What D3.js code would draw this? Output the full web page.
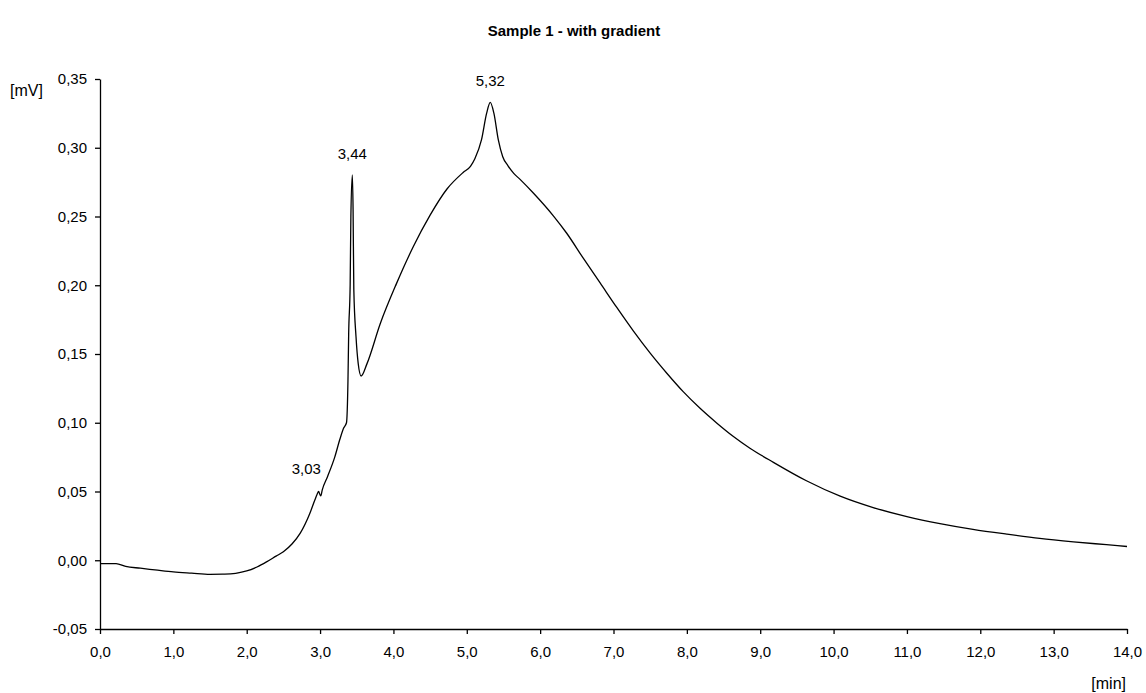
<!DOCTYPE html>
<html>
<head>
<meta charset="utf-8">
<script src="https://cdn.jsdelivr.net/npm/d3@7"></script>
<style>
  html, body { margin: 0; padding: 0; background: #fff; }
  svg { display: block; font-family: Arial, "Liberation Sans", sans-serif; }
</style>
</head>
<body>
<svg id="chart" width="1146" height="693"></svg>
<script>
// Detector trace: retention time [min] and signal [mV]
const retentionTime = [
  0.00, 0.10, 0.22, 0.35, 0.55, 0.75, 1.00, 1.25, 1.50, 1.70, 1.85, 2.00,
  2.14, 2.27, 2.40, 2.50, 2.62, 2.73, 2.86, 2.93, 2.96, 2.98, 3.00, 3.01,
  3.03, 3.10, 3.20, 3.27, 3.32, 3.36, 3.38, 3.39, 3.41, 3.42, 3.44, 3.45,
  3.46, 3.49, 3.52, 3.56, 3.64, 3.82, 4.04, 4.27, 4.50, 4.73, 4.95, 5.05,
  5.11, 5.20, 5.27, 5.32, 5.37, 5.43, 5.49, 5.56, 5.64, 5.73, 5.91, 6.18,
  6.36, 6.59, 6.82, 7.04, 7.27, 7.50, 7.73, 7.95, 8.18, 8.41, 8.63, 8.86,
  9.18, 9.63, 10.09, 10.54, 11.00, 11.45, 11.90, 12.36, 12.81, 13.27, 13.72, 14.00
];
const signal = [
  -0.0024, -0.0024, -0.0025, -0.0045, -0.0058, -0.0070, -0.0085, -0.0094, -0.0102, -0.0101, -0.0095, -0.0078,
  -0.0049, -0.0012, 0.0030, 0.0062, 0.0120, 0.0197, 0.0340, 0.0440, 0.0480, 0.0500, 0.0475, 0.0468,
  0.0512, 0.0606, 0.0750, 0.0880, 0.0960, 0.1000, 0.1300, 0.1650, 0.2000, 0.2500, 0.2802, 0.2550,
  0.1970, 0.1625, 0.1430, 0.1340, 0.1430, 0.1720, 0.2010, 0.2280, 0.2510, 0.2700, 0.2820, 0.2865,
  0.2920, 0.3057, 0.3250, 0.3330, 0.3250, 0.3057, 0.2935, 0.2870, 0.2814, 0.2768, 0.2669, 0.2505,
  0.2380, 0.2195, 0.2015, 0.1842, 0.1668, 0.1506, 0.1358, 0.1226, 0.1105, 0.0997, 0.0902, 0.0815,
  0.0712, 0.0578, 0.0466, 0.0383, 0.0318, 0.0267, 0.0225, 0.0190, 0.0159, 0.0134, 0.0113, 0.0100
];

// Labelled peaks (retention time of apex)
const peakTimes = [3.03, 3.44, 5.32];

// Axis ticks
const xTicks = d3.range(0, 15, 1);
const yTicks = [-0.05, 0.00, 0.05, 0.10, 0.15, 0.20, 0.25, 0.30, 0.35];

const title = "Sample 1 - with gradient";
const xUnit = "[min]";
const yUnit = "[mV]";

// Comma decimal separator and plain hyphen minus
const locale = d3.formatLocale({ decimal: ",", thousands: ".", grouping: [3], currency: ["", ""], minus: "-" });
const fmtX = locale.format(".1f");
const fmtY = locale.format(".2f");
const fmtPeak = locale.format(".2f");

const svg = d3.select("#chart");
const x = d3.scaleLinear().domain([0, 14]).range([100, 1127]);
const y = d3.scaleLinear().domain([-0.05, 0.35]).range([629, 79]);

const points = retentionTime.map((t, i) => ({ t, v: signal[i] }));
const valueAt = t => {
  const i = retentionTime.indexOf(t);
  return i >= 0 ? signal[i] : null;
};

// Axes
const axisFont = "15px";
const yAxis = svg.append("g")
  .attr("transform", `translate(${x(0)},0)`)
  .call(d3.axisLeft(y).tickValues(yTicks).tickFormat(fmtY).tickSize(5).tickSizeOuter(0).tickPadding(8));
const xAxis = svg.append("g")
  .attr("transform", `translate(0,${y(-0.05)})`)
  .call(d3.axisBottom(x).tickValues(xTicks).tickFormat(fmtX).tickSize(5).tickSizeOuter(0).tickPadding(12));

[xAxis, yAxis].forEach(g => {
  g.selectAll("path.domain").attr("stroke", "#000").attr("stroke-width", 1.3);
  g.selectAll(".tick line").attr("stroke", "#000").attr("stroke-width", 1.3);
  g.selectAll(".tick text")
    .attr("fill", "#000")
    .style("font-family", "Arial, 'Liberation Sans', sans-serif")
    .style("font-size", axisFont);
});

// Trace
svg.append("path")
  .datum(points)
  .attr("fill", "none")
  .attr("stroke", "#000")
  .attr("stroke-width", 1.3)
  .attr("stroke-linejoin", "round")
  .attr("d", d3.line().x(d => x(d.t)).y(d => y(d.v)).curve(d3.curveMonotoneX));

// Peak labels
const peakOffsets = { 3.03: -16, 3.44: 0, 5.32: 0 };
svg.append("g").selectAll("text")
  .data(peakTimes)
  .join("text")
  .attr("x", d => x(d) + peakOffsets[d])
  .attr("y", d => y(valueAt(d)) - 16)
  .attr("text-anchor", "middle")
  .style("font-size", axisFont)
  .attr("fill", "#000")
  .text(d => fmtPeak(d));

// Title and units
svg.append("text")
  .attr("x", 574).attr("y", 36)
  .attr("text-anchor", "middle")
  .style("font-size", "15px")
  .style("font-weight", "bold")
  .text(title);

svg.append("text")
  .attr("x", 10).attr("y", 96)
  .style("font-size", "16px")
  .text(yUnit);

svg.append("text")
  .attr("x", 1126).attr("y", 689)
  .attr("text-anchor", "end")
  .style("font-size", "16px")
  .text(xUnit);
</script>
</body>
</html>
